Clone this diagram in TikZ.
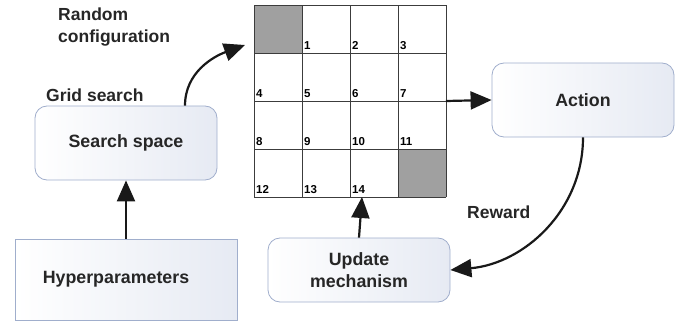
\documentclass[tikz,border=0pt]{standalone}
\usepackage{fontspec}
\setmainfont{Liberation Sans}
\usetikzlibrary{arrows.meta}
\definecolor{boxline}{RGB}{160,174,204}
\definecolor{boxright}{RGB}{230,234,243}
\definecolor{cellgray}{RGB}{160,160,160}
\definecolor{gridline}{RGB}{60,60,60}
\tikzset{
  box/.style={draw=boxline, line width=0.8pt, rounded corners=12pt, left color=white, right color=boxright, inner sep=0pt, align=center, font=\fontsize{17.8}{22}\selectfont\bfseries, text=black!85},
  sqbox/.style={box, rounded corners=0pt},
  lbl/.style={font=\fontsize{17.5}{22}\selectfont\bfseries, text=black!85, align=left, inner sep=0pt},
  num/.style={font=\fontsize{11.5}{12}\selectfont\bfseries, inner sep=0pt, anchor=south west},
  arr/.style={line width=2.2pt, black!90, -{Triangle[length=21pt,width=18pt]}},
}
\begin{document}
\begin{tikzpicture}[x=1pt,y=1pt]
\useasboundingbox (0,0) rectangle (694,322);
% grid
\fill[cellgray] (254,269) rectangle (302,317);
\fill[cellgray] (398,125) rectangle (446,173);
\draw[gridline, line width=0.8pt, shift={(254,125)}] (0,0) grid[step=48] (192,192);
\coordinate (gridE) at (446,221);
\coordinate (gridS) at (362,125);
\coordinate (gridNW) at (245,277);
% numbers
\foreach \n/\c/\r in {1/1/0,2/2/0,3/3/0,4/0/1,5/1/1,6/2/1,7/3/1,8/0/2,9/1/2,10/2/2,11/3/2,12/0/3,13/1/3,14/2/3}{
  \node[num] (n\n) at ({254+48*\c+2},{317-48*(\r+1)+3}) {\n};
}
% boxes
\node[box, minimum width=182pt, minimum height=74pt] (search) at (126,179) {Search space};
\node[sqbox, minimum width=222pt, minimum height=81pt] (hyper) at (126,42.5) {Hyperparameters\hspace*{20pt}};
\node[box, minimum width=182pt, minimum height=74pt] (action) at (583,222) {Action};
\node[box, minimum width=182pt, minimum height=64pt] (update) at (359,52) {Update\\mechanism};
% labels
\node[lbl, anchor=west] (grid) at (46,227) {Grid search};
\node[lbl, anchor=north west] (rand) at (58,314) {Random\\configuration};
\node[lbl, anchor=west] (reward) at (467,110) {Reward};
% arrows
\draw[arr] (hyper.north) -- (search.south);
\draw[arr] ([xshift=59pt]search.north) to[out=90,in=200] (gridNW);
\draw[arr] (gridE) -- (action.west);
\draw[arr] (action.south) to[out=-90,in=5] (update.east);
\draw[arr] (update.north) -- (gridS);
\end{tikzpicture}
\end{document}
